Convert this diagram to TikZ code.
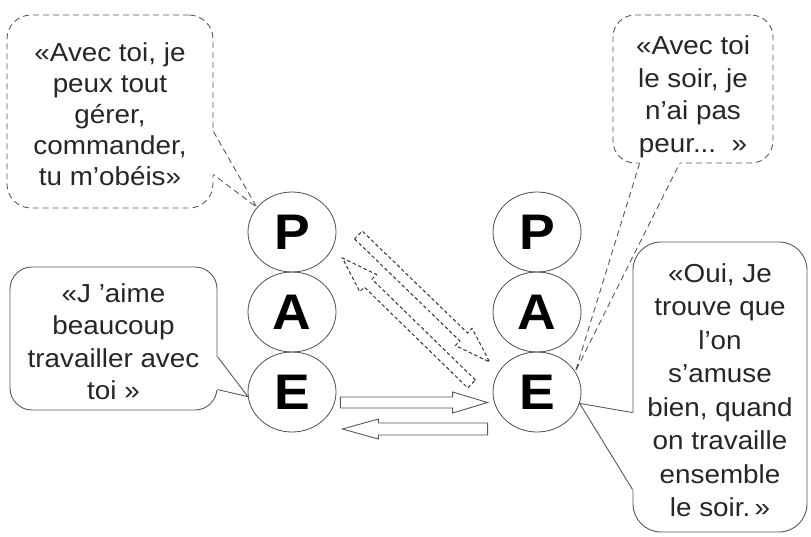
\documentclass[tikz,border=0pt]{standalone}
\usepackage{fontspec}
\setmainfont{Liberation Sans}[FakeStretch=1.07]
\usetikzlibrary{shapes.geometric,calc}

% Hollow block arrow from #2 (tail) to #3 (tip):
% #4 shaft half width, #5 head half width, #6 head length (all in pt)
\newcommand\hollowarrow[6]{%
  \path let \p1=(#2), \p2=(#3),
            \n1={atan2(\y2-\y1,\x2-\x1)},
            \n2={veclen(\x2-\x1,\y2-\y1)} in
        \pgfextra{\pgfmathsetmacro\harAngTmp{\n1}\pgfmathsetmacro\harLenTmp{\n2}%
                  \xdef\harAng{\harAngTmp}\xdef\harLen{\harLenTmp}};
  \begin{scope}[shift={(#2)}, rotate=\harAng]
    \draw[#1] (0pt,-#4pt) -- ({\harLen pt-#6pt},-#4pt) -- ({\harLen pt-#6pt},-#5pt)
      -- ({\harLen pt},0pt) -- ({\harLen pt-#6pt},#5pt) -- ({\harLen pt-#6pt},#4pt)
      -- (0pt,#4pt) -- cycle;
  \end{scope}
}

% Speech-bubble tail: opens the outline between #2 and #4 and points to #3
\newcommand\bubbletail[4]{%
  \fill[white] (#2) -- (#3) -- (#4) -- cycle;
  \draw[white, line width=2.6pt] (#2) -- (#4);
  \draw[#1] (#2) -- (#3) -- (#4);
}

\tikzset{
  pae/.style={ellipse, draw=black!70, line width=0.8pt,
    minimum width=88pt, minimum height=80pt, inner sep=0pt,
    font=\fontsize{50}{50}\selectfont\bfseries},
  bubble/.style={draw=black!65, line width=0.9pt, fill=white, inner sep=0pt},
  bubbletext/.style={align=center, inner sep=0pt, text=black!85,
    font=\fontsize{26}{#1}\selectfont},
  bubbletext/.default=32.5,
  bubbledash/.style={dash pattern=on 6pt off 4pt},
  tailline/.style={draw=black!65, line width=0.9pt, line join=miter},
  solidarrow/.style={draw=black!65, line width=0.9pt, fill=white},
  dasharrow/.style={draw=black!80, line width=1pt, dash pattern=on 3.5pt off 2.5pt},
}

\begin{document}
\begin{tikzpicture}[x=1pt, y=-1pt]
  \useasboundingbox (0,0) rectangle (811,536);

  % two P-A-E columns
  \node[pae] (P1) at (292,232) {\raisebox{-7pt}{P}};
  \node[pae] (A1) at (292,312) {\raisebox{-7pt}{A}};
  \node[pae] (E1) at (292,392) {\raisebox{-7pt}{E}};
  \node[pae] (P2) at (537,232) {\raisebox{-7pt}{P}};
  \node[pae] (A2) at (537,312) {\raisebox{-7pt}{A}};
  \node[pae] (E2) at (537,392) {\raisebox{-7pt}{E}};

  % speech bubble outlines
  \node[bubble, bubbledash, rounded corners=24pt, minimum width=206pt,
        minimum height=193pt] (b1) at (110,111.5) {};
  \node[bubble, bubbledash, rounded corners=22pt, minimum width=160pt,
        minimum height=148pt] (b2) at (693,89) {};
  \node[bubble, rounded corners=22pt, minimum width=207pt,
        minimum height=143pt] (b3) at (113.5,338.5) {};
  \node[bubble, rounded corners=28pt, minimum width=174pt,
        minimum height=290pt] (b4) at (720,387) {};

  % bubble tails
  \coordinate (t1a) at ($(b1.north east)+(0,117)$);
  \coordinate (t1b) at ($(b1.north east)+(0,160)$);
  \bubbletail{tailline, bubbledash}{t1a}{P1.145}{t1b}

  \coordinate (t2a) at ($(b2.south west)+(27,0)$);
  \coordinate (t2b) at ($(b2.south west)+(67,0)$);
  \bubbletail{tailline, bubbledash}{t2a}{E2.28}{t2b}

  \coordinate (t3a) at ($(b3.north east)+(0,90)$);
  \coordinate (t3b) at ($(b3.north east)+(0,123)$);
  \bubbletail{tailline}{t3a}{E1.186}{t3b}

  \coordinate (t4a) at ($(b4.north west)+(0,171)$);
  \coordinate (t4b) at ($(b4.north west)+(0,248)$);
  \bubbletail{tailline}{t4a}{E2.-15}{t4b}

  % bubble texts
  \node[bubbletext=31] (b1t) at ($(b1)+(0,2.5)$)
    {«Avec toi, je\\peux tout\\gérer,\\commander,\\tu m’obéis»};
  \node[bubbletext] (b2t) at ($(b2)+(0,8)$)
    {«Avec toi\\le soir, je\\n’ai pas\\peur...~~»};
  \node[bubbletext] (b3t) at ($(b3)+(0,3)$)
    {«J ’aime\\beaucoup\\travailler avec\\toi »};
  \node[bubbletext=33.5] (b4t) at ($(b4)+(0,3)$)
    {«Oui, Je\\trouve que\\l’on\\s’amuse\\bien, quand\\on travaille\\ensemble\\le soir.\,»};

  % exchange arrows between the two E states
  \coordinate (r0) at ($(E1.east)+(4,10.5)$);
  \coordinate (r1) at ($(E2.west)+(-5,10.5)$);
  \coordinate (l0) at ($(E2.west)+(-5,37)$);
  \coordinate (l1) at ($(E1.east)+(6,37)$);
  \hollowarrow{solidarrow}{r0}{r1}{5.5}{10.5}{35}
  \hollowarrow{solidarrow}{l0}{l1}{6}{10}{36}

  % crossed (dashed) arrows between P and E
  \coordinate (d0) at ($(P1.east)+(22,3)$);
  \coordinate (d1) at ($(E2.west)+(-3,-30)$);
  \coordinate (u0) at ($(E2.west)+(-21,-8)$);
  \coordinate (u1) at ($(P1.east)+(6,26)$);
  \hollowarrow{dasharrow}{d0}{d1}{5.5}{12}{36}
  \hollowarrow{dasharrow}{u0}{u1}{5.5}{12}{36}
\end{tikzpicture}
\end{document}
